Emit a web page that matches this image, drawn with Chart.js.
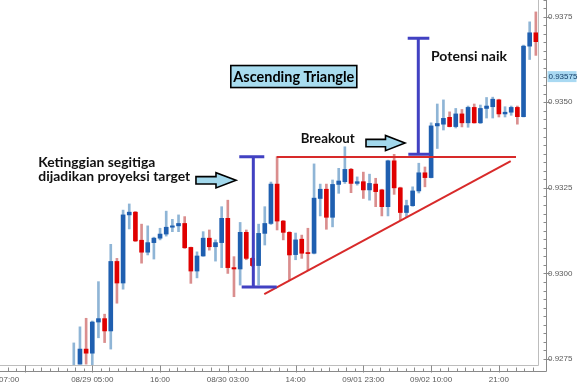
<!DOCTYPE html>
<html>
<head>
<meta charset="utf-8">
<script src="https://cdn.jsdelivr.net/npm/chart.js@4.4.1/dist/chart.umd.min.js"></script>
<style>
  html, body { margin: 0; padding: 0; background: #fff; }
  #wrap { width: 580px; height: 387px; }
</style>
</head>
<body>
<div id="wrap"><canvas id="chart"></canvas></div>
<script>
"use strict";

// Hourly candles, oldest first (bar index = position in the arrays)
var opens = [
    0.92715, 0.92735, 0.92779, 0.92767, 0.92858, 0.92868, 0.92832, 0.93035, 0.92972, 0.93171,
    0.93179, 0.93097, 0.93062, 0.93090, 0.93103, 0.93115, 0.93135, 0.93139, 0.93146, 0.93076,
    0.93007, 0.93051, 0.93103, 0.93078, 0.93090, 0.93161, 0.93017, 0.93013, 0.93120, 0.93044,
    0.93023, 0.93117, 0.93146, 0.93261, 0.93153, 0.93120, 0.93055, 0.93100, 0.93061, 0.93059,
    0.93219, 0.93246, 0.93164, 0.93260, 0.93268, 0.93304, 0.93263, 0.93268, 0.93244, 0.93261,
    0.93244, 0.93195, 0.93329, 0.93250, 0.93178, 0.93198, 0.93241, 0.93294, 0.93280, 0.93431,
    0.93436, 0.93456, 0.93429, 0.93466, 0.93440, 0.93485, 0.93440, 0.93482, 0.93487, 0.93507,
    0.93466, 0.93471, 0.93485, 0.93458, 0.93664, 0.93703
];
var highs = [
    0.92797, 0.92844, 0.92869, 0.92861, 0.92976, 0.92881, 0.93085, 0.93044, 0.93185, 0.93203,
    0.93181, 0.93144, 0.93139, 0.93106, 0.93132, 0.93182, 0.93158, 0.93171, 0.93166, 0.93077,
    0.93063, 0.93122, 0.93127, 0.93098, 0.93195, 0.93214, 0.93049, 0.93149, 0.93127, 0.93046,
    0.93144, 0.93195, 0.93267, 0.93341, 0.93155, 0.93122, 0.93118, 0.93112, 0.93132, 0.93320,
    0.93261, 0.93261, 0.93273, 0.93307, 0.93370, 0.93307, 0.93282, 0.93296, 0.93290, 0.93278,
    0.93246, 0.93331, 0.93348, 0.93252, 0.93214, 0.93253, 0.93322, 0.93311, 0.93440, 0.93495,
    0.93507, 0.93472, 0.93482, 0.93479, 0.93489, 0.93495, 0.93492, 0.93514, 0.93515, 0.93509,
    0.93487, 0.93489, 0.93489, 0.93667, 0.93735, 0.93764
];
var lows = [
    0.92710, 0.92735, 0.92735, 0.92718, 0.92812, 0.92798, 0.92779, 0.92913, 0.92954, 0.93130,
    0.93093, 0.93030, 0.93054, 0.93042, 0.93098, 0.93109, 0.93122, 0.93122, 0.93073, 0.92971,
    0.92987, 0.93050, 0.93068, 0.93036, 0.93017, 0.93000, 0.92932, 0.92966, 0.93040, 0.93020,
    0.92966, 0.93083, 0.93143, 0.93127, 0.93098, 0.92981, 0.93040, 0.93044, 0.93010, 0.93057,
    0.93168, 0.93129, 0.93136, 0.93234, 0.93263, 0.93236, 0.93258, 0.93219, 0.93214, 0.93195,
    0.93168, 0.93168, 0.93231, 0.93156, 0.93166, 0.93196, 0.93235, 0.93253, 0.93279, 0.93365,
    0.93419, 0.93428, 0.93425, 0.93428, 0.93427, 0.93439, 0.93438, 0.93454, 0.93454, 0.93457,
    0.93457, 0.93462, 0.93436, 0.93457, 0.93625, 0.93637
];
var closes = [
    0.92725, 0.92779, 0.92767, 0.92858, 0.92868, 0.92832, 0.93035, 0.92972, 0.93171, 0.93179,
    0.93095, 0.93062, 0.93090, 0.93103, 0.93115, 0.93135, 0.93139, 0.93146, 0.93075, 0.93007,
    0.93051, 0.93103, 0.93078, 0.93090, 0.93161, 0.93017, 0.93013, 0.93120, 0.93044, 0.93023,
    0.93117, 0.93146, 0.93261, 0.93153, 0.93120, 0.93054, 0.93098, 0.93059, 0.93058, 0.93220,
    0.93246, 0.93164, 0.93260, 0.93270, 0.93304, 0.93263, 0.93268, 0.93244, 0.93263, 0.93239,
    0.93195, 0.93329, 0.93250, 0.93178, 0.93198, 0.93241, 0.93294, 0.93280, 0.93431, 0.93438,
    0.93453, 0.93429, 0.93466, 0.93440, 0.93485, 0.93440, 0.93482, 0.93489, 0.93509, 0.93466,
    0.93471, 0.93485, 0.93458, 0.93664, 0.93703, 0.93677
];

// Time axis labels (bar index where each label sits)
var xTickPos = [-10.5, 3, 14, 25, 36, 47, 58, 69];
var xTickLabels = ["07:00", "08/29 05:00", "16:00", "08/30 03:00", "14:00", "09/01 23:00", "09/02 10:00", "21:00"];
var xMajorTicks = [-8, 3, 14, 25, 36, 47, 58, 69];

// Price axis labels
var yTickPos = [0.9275, 0.9300, 0.9325, 0.9350, 0.9375];
var yTickLabels = ["0.9275", "0.9300", "0.9325", "0.9350", "0.9375"];
var markerPrice = 0.93575;
var markerLabel = "0.93575";

// Colours
var blueBody = "#1f5fb0", blueWick = "#8fb5d6";
var redBody = "#e00000", redWick = "#da8e8e";
var bracketColor = "#4141c2", trendColor = "#d82a2a";
var arrowFill = "#a2d8ec", boxFill = "#a8dcef";

function isUp(i) { return closes[i] >= opens[i]; }

var wickData = highs.map(function (h, i) { return { x: i, y: [lows[i], h] }; });
var bodyData = opens.map(function (o, i) { return { x: i, y: [o, closes[i]] }; });

// Annotations in data units (bar index, price)
var resistance = { from: 32.94, to: 71.78, price: 0.93340 };
var support = { x0: 30.92, p0: 0.929399, x1: 70.92, p1: 0.933284 };
var brackets = [
    { x: 29.14, top: 0.933409, bottom: 0.929603, topFrom: 26.86, topTo: 30.92, botFrom: 27.25, botTo: 32.94 },
    { x: 55.92, top: 0.936868, bottom: 0.933479, topFrom: 54.20, topTo: 57.71, botFrom: 54.30, botTo: 57.82 }
];
var arrows = [
    { from: 19.83, to: 26.33, price: 0.93272 },
    { from: 47.43, to: 53.76, price: 0.933809 }
];
var notes = [
    { text: "Potensi naik", x: 57.98, price: 0.936205, width: 76, size: 14 },
    { text: "Breakout", x: 36.83, price: 0.933818, width: 54, size: 13 },
    { text: "Ketinggian segitiga", x: -5.77, price: 0.933117, width: 117, size: 14 },
    { text: "dijadikan proyeksi target", x: -5.77, price: 0.932714, width: 152, size: 14 }
];
var titleBox = { text: "Ascending Triangle", x: 35.71, price: 0.935752, width: 126, height: 22, textWidth: 121, size: 15 };

function fitText(ctx, str, x, y, width, center) {
    var w = ctx.measureText(str).width;
    var k = width / w;
    ctx.save();
    ctx.translate(x, y);
    ctx.scale(k, 1);
    ctx.fillText(str, center ? -w / 2 : 0, 0);
    ctx.restore();
}

function noPadding(s) {
    s.paddingLeft = 0; s.paddingRight = 0; s.paddingTop = 0; s.paddingBottom = 0;
}

var overlay = {
    id: "overlay",
    afterDraw: function (chart) {
        var ctx = chart.ctx, xs = chart.scales.x, ys = chart.scales.y, area = chart.chartArea;
        function px(v) { return xs.getPixelForValue(v); }
        function py(v) { return ys.getPixelForValue(v); }
        var r = Math.round(area.right) + 0.5, b = Math.round(area.bottom) + 0.5;
        var axX = r + 8, axY = b + 6;

        // frame and axis lines
        ctx.save();
        ctx.lineWidth = 1;
        ctx.strokeStyle = "#bdbdbd";
        ctx.beginPath();
        ctx.moveTo(r, 0); ctx.lineTo(r, b); ctx.lineTo(0, b);
        ctx.stroke();
        ctx.strokeStyle = "#8a8a8a";
        ctx.beginPath();
        ctx.moveTo(axX, 0); ctx.lineTo(axX, axY); ctx.lineTo(0, axY);
        ctx.stroke();

        // x tick marks
        ctx.beginPath();
        xMajorTicks.forEach(function (v) {
            var x = Math.round(px(v)) + 0.5;
            ctx.moveTo(x, b); ctx.lineTo(x, axY + 1);
        });
        for (var n = -2; n < 70; n++) {
            var xv = -8 + n * 1.375, x = Math.round(px(xv)) + 0.5;
            if (x < 0 || x > r || n % 8 === 0) continue;
            ctx.moveTo(x, axY - (n % 2 === 0 ? 4 : 3)); ctx.lineTo(x, axY);
        }
        // y tick marks
        for (var m = 0; m <= 42; m++) {
            var yv = 0.9275 + m * 0.00025, y = Math.round(py(yv)) + 0.5;
            if (y < 0 || y > b) continue;
            ctx.moveTo(axX - 3, y); ctx.lineTo(axX, y);
        }
        yTickPos.forEach(function (v) {
            var y = Math.round(py(v)) + 0.5;
            ctx.moveTo(axX, y); ctx.lineTo(axX + 4, y);
        });
        ctx.stroke();

        // current price marker
        var my = py(markerPrice);
        ctx.fillStyle = "#a9d9f2";
        ctx.fillRect(axX + 1, my - 5.5, 29, 11);
        ctx.fillStyle = "#123c66";
        ctx.font = "8px 'Liberation Sans'";
        ctx.textBaseline = "middle";
        ctx.textAlign = "left";
        ctx.fillText(markerLabel, axX + 2, my + 0.5);
        ctx.restore();

        // triangle lines
        ctx.save();
        ctx.beginPath();
        ctx.rect(area.left, area.top, area.right - area.left, area.bottom - area.top);
        ctx.clip();
        ctx.strokeStyle = trendColor;
        ctx.lineWidth = 2;
        ctx.beginPath();
        ctx.moveTo(px(resistance.from), py(resistance.price));
        ctx.lineTo(px(resistance.to), py(resistance.price));
        ctx.stroke();
        ctx.beginPath();
        ctx.moveTo(px(support.x0), py(support.p0));
        ctx.lineTo(px(support.x1), py(support.p1));
        ctx.stroke();

        // height brackets
        ctx.strokeStyle = bracketColor;
        ctx.lineWidth = 3;
        brackets.forEach(function (br) {
            ctx.beginPath();
            ctx.moveTo(px(br.x), py(br.top)); ctx.lineTo(px(br.x), py(br.bottom));
            ctx.moveTo(px(br.topFrom), py(br.top)); ctx.lineTo(px(br.topTo), py(br.top));
            ctx.moveTo(px(br.botFrom), py(br.bottom)); ctx.lineTo(px(br.botTo), py(br.bottom));
            ctx.stroke();
        });

        // arrows
        arrows.forEach(function (a) {
            var x0 = px(a.from), x1 = px(a.to), y = py(a.price);
            var xm = (x0 + x1) / 2;
            ctx.beginPath();
            ctx.moveTo(x0, y - 3.7); ctx.lineTo(xm, y - 3.7); ctx.lineTo(xm, y - 7.6);
            ctx.lineTo(x1, y); ctx.lineTo(xm, y + 7.6); ctx.lineTo(xm, y + 3.7);
            ctx.lineTo(x0, y + 3.7); ctx.closePath();
            ctx.fillStyle = arrowFill;
            ctx.fill();
            ctx.strokeStyle = "#000";
            ctx.lineWidth = 1.6;
            ctx.lineJoin = "miter";
            ctx.stroke();
        });

        // title box
        var tx = px(titleBox.x), ty = py(titleBox.price);
        ctx.fillStyle = boxFill;
        ctx.fillRect(tx - titleBox.width / 2, ty - titleBox.height / 2, titleBox.width, titleBox.height);
        ctx.strokeStyle = "#000";
        ctx.lineWidth = 1.6;
        ctx.strokeRect(tx - titleBox.width / 2, ty - titleBox.height / 2, titleBox.width, titleBox.height);
        ctx.fillStyle = "#000";
        ctx.font = "bold " + titleBox.size + "px Lato";
        ctx.textBaseline = "middle";
        fitText(ctx, titleBox.text, tx, ty + 0.5, titleBox.textWidth, true);

        // notes
        ctx.textBaseline = "alphabetic";
        notes.forEach(function (nt) {
            ctx.font = "bold " + nt.size + "px Lato";
            ctx.fillStyle = "#111";
            fitText(ctx, nt.text, px(nt.x), py(nt.price), nt.width, false);
        });
        ctx.restore();
    }
};

new Chart(document.getElementById("chart"), {
    type: "bar",
    data: {
        datasets: [{
            label: "body",
            data: bodyData,
            backgroundColor: opens.map(function (o, i) { return isUp(i) ? blueBody : redBody; }),
            barThickness: 4,
            minBarLength: 1,
            borderWidth: 0,
            grouped: false,
            order: 0
        }, {
            label: "wick",
            data: wickData,
            backgroundColor: highs.map(function (h, i) { return isUp(i) ? blueWick : redWick; }),
            barThickness: 2,
            borderWidth: 0,
            grouped: false,
            order: 1
        }]
    },
    options: {
        responsive: true,
        maintainAspectRatio: false,
        animation: false,
        layout: { padding: 0 },
        plugins: { legend: { display: false }, tooltip: { enabled: false } },
        scales: {
            x: {
                type: "linear",
                position: "bottom",
                min: -11.98,
                max: 75.35,
                offset: false,
                grid: { display: false, drawTicks: false },
                border: { display: false },
                afterBuildTicks: function (s) { s.ticks = xTickPos.map(function (v) { return { value: v }; }); },
                afterFit: function (s) { s.height = 22; noPadding(s); },
                ticks: {
                    autoSkip: false,
                    maxRotation: 0,
                    padding: 10,
                    color: "#5a5a5a",
                    font: { family: "'Liberation Sans'", size: 8 },
                    callback: function (v, i) { return xTickLabels[i]; }
                }
            },
            y: {
                type: "linear",
                position: "right",
                min: 0.927325,
                max: 0.937988,
                beginAtZero: false,
                grid: { display: false, drawTicks: false },
                border: { display: false },
                afterBuildTicks: function (s) { s.ticks = yTickPos.map(function (v) { return { value: v }; }); },
                afterFit: function (s) { s.width = 42; noPadding(s); },
                ticks: {
                    padding: 10,
                    color: "#5a5a5a",
                    font: { family: "'Liberation Sans'", size: 8 },
                    callback: function (v, i) { return yTickLabels[i]; }
                }
            }
        }
    },
    plugins: [overlay]
});
</script>
</body>
</html>
